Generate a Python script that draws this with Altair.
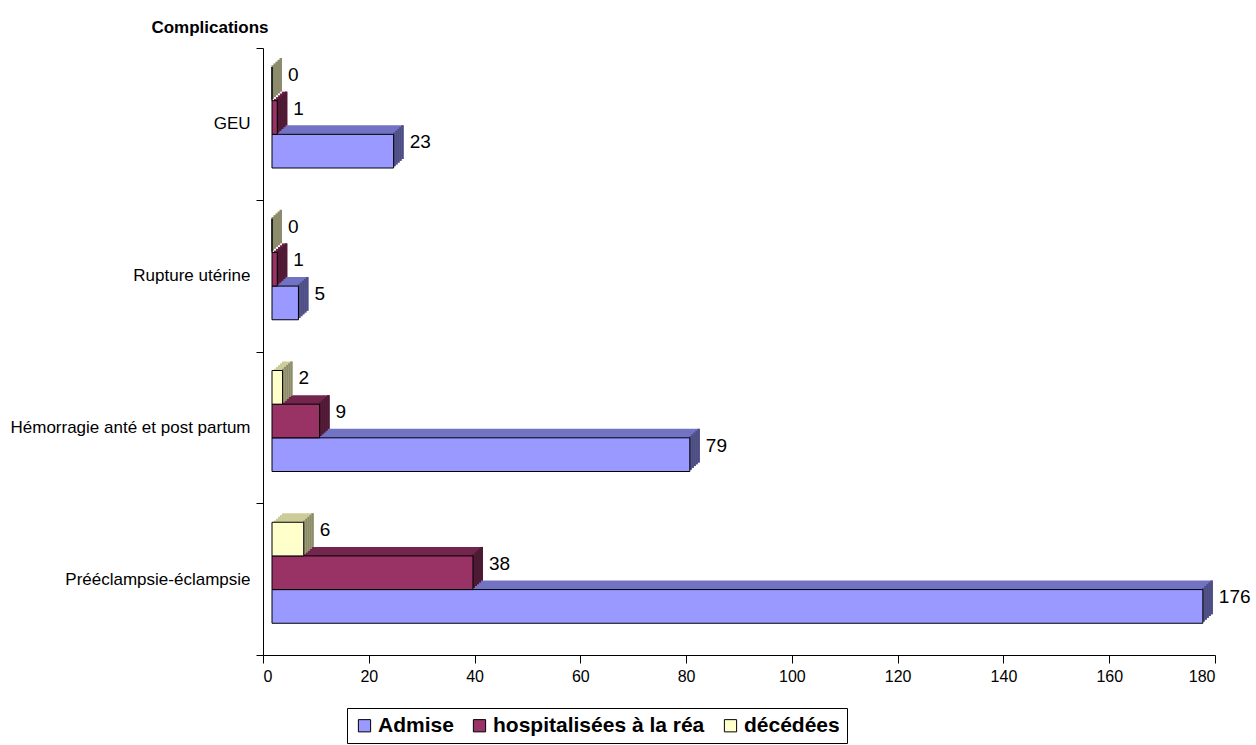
import altair as alt
import pandas as pd

# Complications and counts per patient group
categories = [
    "GEU",
    "Rupture utérine",
    "Hémorragie anté et post partum",
    "Prééclampsie-éclampsie",
]
series_names = ["Admise", "hospitalisées à la réa", "décédées"]
admise = [23, 5, 79, 176]
hospitalisees = [1, 1, 9, 38]
decedees = [0, 0, 2, 6]
x_ticks = [0, 20, 40, 60, 80, 100, 120, 140, 160, 180]

# Face colours of the pseudo-3D bars (front, top, right side)
front_colors = ["#9999FF", "#993366", "#FFFFCC"]
top_colors = ["#7373C4", "#73264D", "#CCCC99"]
side_colors = ["#4D4D80", "#4D1A33", "#8C8C6C"]

rows = []
for name, values in zip(series_names, [admise, hospitalisees, decedees]):
    for cat, v in zip(categories, values):
        rows.append({"complication": cat, "serie": name, "valeur": v, "zero": 0})
df = pd.DataFrame(rows)

W, H = 952, 607
FONT = "Liberation Sans, Arial, sans-serif"
stack_order = ["décédées", "hospitalisées à la réa", "Admise"]

DX, DY = 10, 9        # depth of the extrusion in pixels
FLOOR = 9             # gap between the axis and the front faces
STEPS = 5             # slices used to build the extruded faces
GROUP = (19, 120)     # pixel span of the three front faces inside a category band
SLOT = (GROUP[1] - GROUP[0]) / len(series_names)

y_axis = alt.Axis(
    title="Complications", titleAngle=0, titleAlign="right", titleBaseline="middle",
    titleX=5, titleY=-21, titleFont=FONT, titleFontSize=17, titleFontWeight="bold",
    titleColor="black", labelFont=FONT, labelFontSize=17, labelColor="black",
    labelPadding=6, labelLimit=0, tickBand="extent", tickSize=7, tickColor="black",
    domainColor="black", grid=False,
)
x_axis = alt.Axis(
    values=x_ticks, title=None, grid=False, tickSize=8, labelPadding=5,
    labelFont=FONT, labelFontSize=16, labelColor="black",
    domainColor="black", tickColor="black",
)
x_scale = alt.Scale(domain=[0, 180], nice=False)

y_enc = alt.Y("complication:N", sort=categories,
              scale=alt.Scale(paddingInner=0, paddingOuter=0), axis=y_axis)


def yoff(lo, hi):
    # series slots inside each category band, spread over [lo, hi] pixels
    return alt.YOffset(
        "serie:N", sort=stack_order,
        scale=alt.Scale(paddingInner=0, paddingOuter=0, range=[lo, hi]),
    )


base = alt.Chart(df)


def face(colors, x_field, x_off, x2_off, shift):
    return base.mark_bar(xOffset=x_off, x2Offset=x2_off).encode(
        y=y_enc, yOffset=yoff(GROUP[0] - shift, GROUP[1] - shift),
        x=alt.X(x_field, type="quantitative", scale=x_scale, axis=x_axis),
        x2="valeur:Q",
        color=alt.Color("serie:N", scale=alt.Scale(domain=series_names, range=colors),
                        legend=None),
    )


# Extrusion: slices from the back to the front; each slice is a body in the
# top-face colour with its right end in the side-face colour.
layers = []
for k in range(STEPS, 0, -1):
    t = k / STEPS
    sx = FLOOR + t * DX
    sy = t * DY
    layers.append(face(top_colors, "zero", sx, sx, sy))
    layers.append(face(side_colors, "valeur", sx - DX / STEPS - 0.5, sx, sy))

front = base.mark_bar(
    xOffset=FLOOR, x2Offset=FLOOR, stroke="black", strokeWidth=1,
).encode(
    y=y_enc, yOffset=yoff(*GROUP),
    x=alt.X("zero:Q", scale=x_scale, axis=x_axis), x2="valeur:Q",
    color=alt.Color(
        "serie:N", sort=series_names,
        scale=alt.Scale(domain=series_names, range=front_colors),
        legend=alt.Legend(
            title=None, orient="none", legendX=84, legendY=660, direction="horizontal",
            symbolType="square", symbolSize=150, symbolStrokeColor="black",
            symbolStrokeWidth=1, labelFont=FONT, labelFontSize=21, labelLimit=0,
            labelFontWeight="bold", labelColor="black", labelOffset=3,
            columnPadding=15, padding=7, strokeColor="black", fillColor="white",
        ),
    ),
)

# value labels: text sits on a point scale, so use the slot centres
labels = base.mark_text(
    align="left", baseline="middle", dx=FLOOR + DX + 6, dy=-9,
    font=FONT, fontSize=19, color="black",
).encode(
    y=y_enc, yOffset=yoff(GROUP[0] + SLOT / 2, GROUP[1] - SLOT / 2),
    x=alt.X("valeur:Q", scale=x_scale, axis=x_axis),
    text="valeur:Q",
)

chart = (
    alt.layer(*layers, front, labels)
    .resolve_scale(color="independent", yOffset="independent")
    .properties(
        width=W, height=H,
        autosize=alt.AutoSizeParams(type="none"),
        padding={"left": 263, "top": 48, "right": 41, "bottom": 90},
        background="white",
    )
    .configure_view(stroke=None)
)

chart.save("out.html", embed_options={"renderer": "svg", "actions": False})
